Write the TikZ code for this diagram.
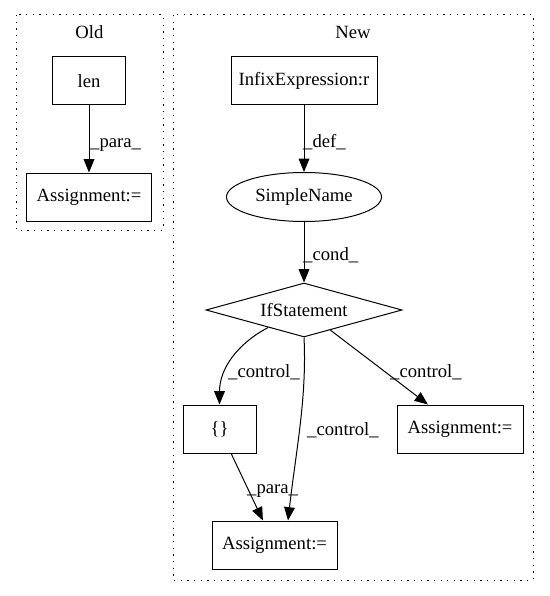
\documentclass[tikz,border=0pt]{standalone}
\usepackage{fontspec}
\setmainfont{Liberation Serif}
\usetikzlibrary{arrows.meta,shapes.geometric}
\begin{document}
\begin{tikzpicture}[x=1pt,y=-1pt,
  every node/.style={font=\fontsize{18.67}{22}\selectfont},
  box/.style={draw, line width=1pt, inner sep=0pt, minimum height=48pt},
  oval/.style={draw, ellipse, line width=1pt, inner sep=0pt, minimum width=155pt, minimum height=49pt},
  decision/.style={draw, diamond, aspect=3.63, line width=1pt, inner sep=0pt, minimum width=196pt, minimum height=54pt},
  conn/.style={line width=1pt, -{Triangle[length=13.3pt,width=10.7pt]}},
  cluster/.style={line width=1pt, dash pattern=on 1.33pt off 5.33pt},
  lbl/.style={anchor=base west, inner sep=0pt}]
\useasboundingbox (0,0) rectangle (549,596);
% clusters
\draw[cluster] (16,15) rectangle (163,230);
\draw[cluster] (173,15) rectangle (533,580);
\node (oldt) at (89.5,32) {Old};
\node (newt) at (353,32) {New};
% Old nodes
\node[box, minimum width=73pt] (len) at (89,81) {len};
\node[box, minimum width=125pt] (oa) at (89,197) {Assignment:=};
% New nodes
\node[box, minimum width=146pt] (inf) at (304,81) {InfixExpression:r};
\node[oval] (sn) at (304,197) {SimpleName};
\node[decision] (if) at (304,310) {IfStatement};
\node[box, minimum width=73pt] (br) at (219.5,429) {\{\}};
\node[box, minimum width=126pt] (ra) at (460,429) {Assignment:=};
\node[box, minimum width=125pt] (ab) at (274.5,545) {Assignment:=};
% edges
\draw[conn] (len) -- (oa);
\draw[conn] (inf) -- (sn);
\draw[conn] (sn) -- (if);
\draw[conn] (if.206) .. controls +(-32,17) and +(0,-35) .. (br.north);
\draw[conn] (if.south) .. controls +(3,60) and +(8,-70) .. ([xshift=13.5pt]ab.north);
\draw[conn] (if) -- (ra);
\draw[conn] (br) -- (ab);
% labels
\node[lbl] (l1) at (90,147) {\_para\_};
\node[lbl] (l2) at (303,147) {\_def\_};
\node[lbl] (l3) at (303,260) {\_cond\_};
\node[lbl] (l4) at (228,377) {\_control\_};
\node[lbl] (l5) at (390,377) {\_control\_};
\node[lbl] (l6) at (307,435) {\_control\_};
\node[lbl] (l7) at (247,493) {\_para\_};
\end{tikzpicture}
\end{document}
